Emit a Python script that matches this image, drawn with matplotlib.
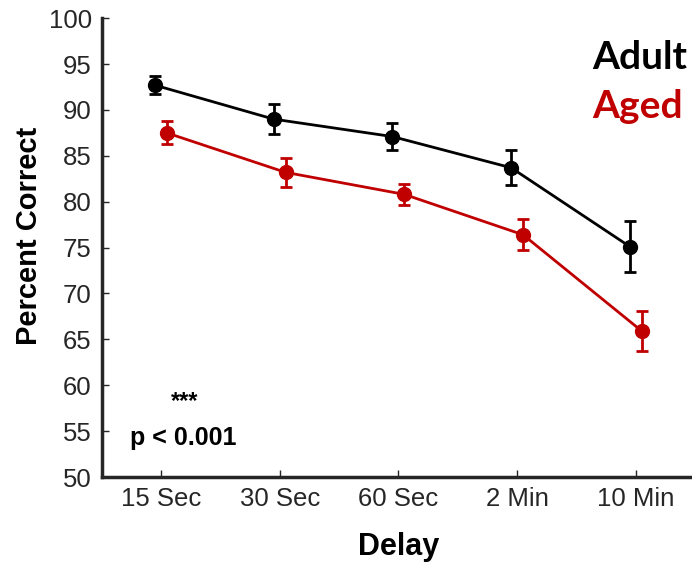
import numpy as np
import matplotlib.pyplot as plt

delays = ["15 Sec", "30 Sec", "60 Sec", "2 Min", "10 Min"]
adult_mean = [92.7, 89.0, 87.1, 83.7, 75.1]
adult_err = [0.95, 1.6, 1.5, 1.9, 2.75]
aged_mean = [87.5, 83.2, 80.8, 76.4, 65.9]
aged_err = [1.25, 1.6, 1.15, 1.7, 2.15]

black = "black"
red = "#C00000"
grey = "#262626"

plt.rcParams['font.family'] = ['Liberation Sans', 'DejaVu Sans']

fig = plt.figure(figsize=(6.92, 5.63), dpi=100)
ax = fig.add_axes([0.1467, 0.1527, 0.858, 0.815])

x = np.arange(1, len(delays) + 1)
ax.errorbar(x - 0.05, adult_mean, yerr=adult_err, color=black, marker='o',
            markersize=10, linewidth=2, elinewidth=2, capsize=4, capthick=2)
ax.errorbar(x + 0.05, aged_mean, yerr=aged_err, color=red, marker='o',
            markersize=10, linewidth=2, elinewidth=2, capsize=4, capthick=2)

ax.set_xlim(0.5, 5.5)
ax.set_ylim(50, 100)
ax.set_xticks(x)
ax.set_xticklabels(delays)
ax.set_yticks(np.arange(50, 101, 5))

for s in ['top', 'right']:
    ax.spines[s].set_visible(False)
for s in ['left', 'bottom']:
    ax.spines[s].set_linewidth(2.5)
    ax.spines[s].set_color(grey)
ax.tick_params(direction='in', length=5, width=1, colors=grey,
               labelsize=18.5, pad=7)

ax.set_xlabel("Delay", fontsize=22, fontweight='bold', labelpad=15)
ax.set_ylabel("Percent Correct", fontsize=21, fontweight='bold')
ax.yaxis.set_label_coords(-0.098, 0.525)

# legend text
fig.text(0.993, 0.898, "Adult", fontsize=28, fontweight='bold', color=black,
         family=['Lato', 'DejaVu Sans'], ha='right', va='center')
fig.text(0.987, 0.81, "Aged", fontsize=28, fontweight='bold', color=red,
         family=['Lato', 'DejaVu Sans'], ha='right', va='center')

# significance
ax.text(1.2, 58.2, "***", fontsize=17, fontweight='bold', ha='center', va='center')
ax.text(0.74, 54.3, "p < 0.001", fontsize=18, fontweight='bold', ha='left', va='center')

plt.savefig("out.png", dpi=100)
